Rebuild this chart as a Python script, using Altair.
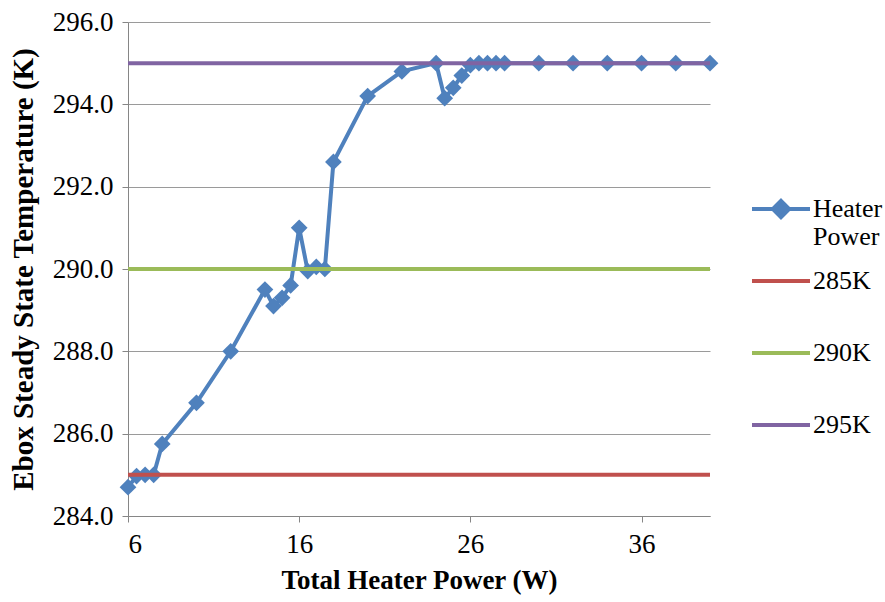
import altair as alt
import pandas as pd

# Heater Power series
power = [6, 6.5, 7, 7.5, 8, 10, 12, 14, 14.5, 15, 15.5, 16, 16.5, 17, 17.5, 18,
         20, 22, 24, 24.5, 25, 25.5, 26, 26.5, 27, 27.5, 28, 30, 32, 34, 36, 38, 40]
temp = [284.7, 284.97, 285.0, 285.0, 285.75, 286.75, 288.0, 289.5, 289.1, 289.3,
        289.6, 291.0, 289.95, 290.05, 290.0, 292.6, 294.2, 294.8, 295.0, 294.15,
        294.4, 294.7, 294.95, 295.0, 295.0, 295.0, 295.0, 295.0, 295.0, 295.0,
        295.0, 295.0, 295.0]

# Reference temperature lines
ref_labels = ["285K", "290K", "295K"]
ref_values = [285, 290, 295]
ref_x = [6, 40]

series_names = ["Heater Power", "285K", "290K", "295K"]
series_colors = ["#4F81BD", "#C0504D", "#9BBB59", "#8064A2"]

x_ticks = [6, 16, 26, 36]
y_ticks = [284, 286, 288, 290, 292, 294, 296]

FONT = "Liberation Serif"

heater_df = pd.DataFrame({"power": power, "temp": temp, "series": "Heater Power"})
ref_df = pd.DataFrame([
    {"power": xv, "temp": v, "series": lab}
    for lab, v in zip(ref_labels, ref_values) for xv in ref_x
])
legend_df = pd.DataFrame({"series": series_names, "power": [6] * 4, "temp": [290] * 4})

x_enc = alt.X("power:Q",
              scale=alt.Scale(domain=[6, 40], nice=False, zero=False),
              axis=alt.Axis(values=x_ticks, title="Total Heater Power (W)", grid=False,
                            tickSize=6, labelPadding=9, titlePadding=10,
                            labelFont=FONT, labelFontSize=27, titleFont=FONT, titleFontSize=27))
y_enc = alt.Y("temp:Q",
              scale=alt.Scale(domain=[284, 296], nice=False, zero=False),
              axis=alt.Axis(values=y_ticks, format=".1f", grid=True,
                            title="Ebox Steady State Temperature  (K)",
                            tickSize=6, labelPadding=9, titlePadding=14,
                            labelFont=FONT, labelFontSize=27, titleFont=FONT, titleFontSize=29))

heater = alt.Chart(heater_df).mark_line(
    color="#4F81BD", strokeWidth=4,
    point=alt.OverlayMarkDef(shape="diamond", size=280, filled=True, color="#4F81BD", opacity=1)
).encode(x=x_enc, y=y_enc)

refs = alt.Chart(ref_df).mark_line(strokeWidth=4).encode(
    x="power:Q", y="temp:Q",
    color=alt.Color("series:N", scale=alt.Scale(domain=series_names, range=series_colors), legend=None),
    detail="series:N",
)

diamond_line = "M-1,0L1,0M0,-0.28L0.28,0L0,0.28L-0.28,0Z"
plain_line = "M-1,0L1,0"
shape_scale = alt.Scale(domain=series_names, range=[diamond_line, plain_line, plain_line, plain_line])
col_scale = alt.Scale(domain=series_names, range=series_colors)
leg = alt.Legend(
    title=None, orient="none", legendX=622, legendY=156,
    symbolSize=3364, symbolStrokeWidth=4, symbolOpacity=1,
    labelFont=FONT, labelFontSize=26, labelColor="black", labelOffset=1,
    rowPadding=0, gridAlign="all",
    labelExpr="datum.label == 'Heater Power' ? ['Heater', 'Power'] : datum.label",
)
legend_layer = alt.Chart(legend_df).mark_point(opacity=0, filled=True, strokeWidth=4).encode(
    x="power:Q", y="temp:Q",
    fill=alt.Fill("series:N", scale=col_scale, legend=leg, sort=series_names),
    stroke=alt.Stroke("series:N", scale=col_scale, legend=leg, sort=series_names),
    shape=alt.Shape("series:N", scale=shape_scale, legend=leg, sort=series_names),
)

chart = alt.layer(heater, refs, legend_layer).resolve_scale(color="independent").properties(
    width=582, height=494,
    autosize=alt.AutoSizeParams(type="none"),
    padding={"left": 128, "top": 22, "right": 175, "bottom": 86},
).configure_view(stroke=None).configure_axis(
    labelFont=FONT, labelColor="black",
    titleFont=FONT, titleFontWeight="bold", titleColor="black",
    domainColor="#868686", tickColor="#868686", gridColor="#9a9a9a", domainWidth=1,
)

chart.save("out.html", embed_options={"renderer": "svg", "actions": False})
